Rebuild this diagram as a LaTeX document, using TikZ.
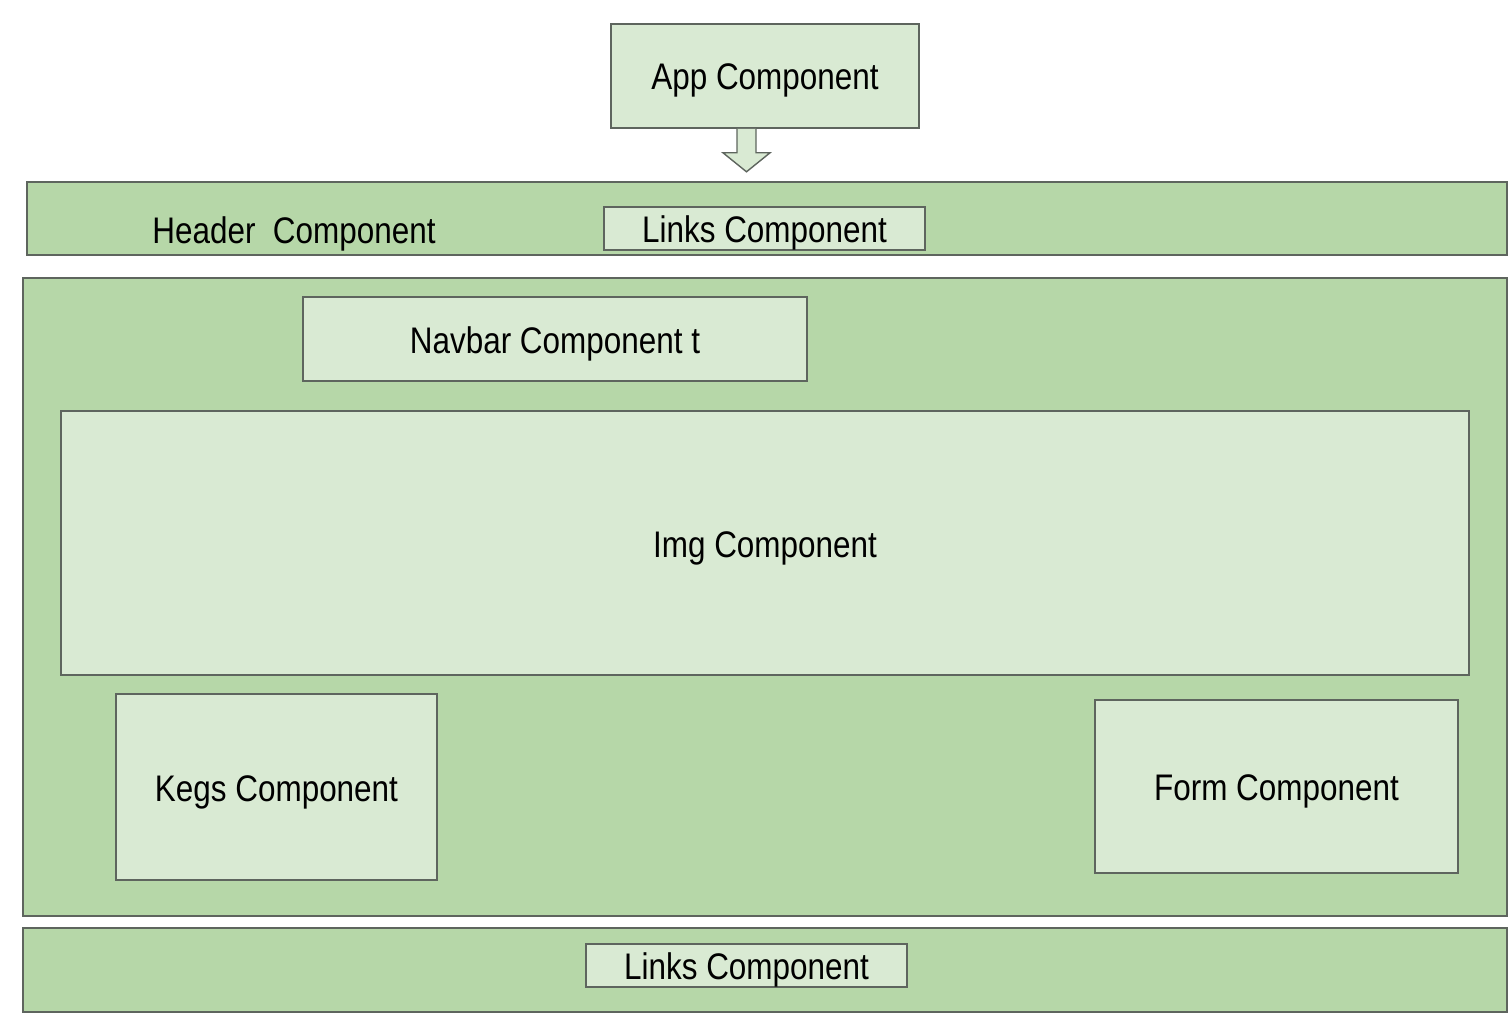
\documentclass[tikz,border=0pt]{standalone}
\usepackage{fontspec}
\setmainfont{Liberation Sans}[FakeStretch=0.85]
\usetikzlibrary{arrows}
\usetikzlibrary{shapes}
\definecolor{bandgreen}{HTML}{B6D7A8}
\definecolor{boxgreen}{HTML}{D9EAD3}
\definecolor{edgegray}{HTML}{5E655E}

\begin{document}
\begin{tikzpicture}[x = 1pt, y = -1pt, font=\fontsize{37}{44}\selectfont]
	\tikzstyle{bandStyle}=[shape = rectangle, draw = edgegray, line width = 2pt, fill = bandgreen, inner sep = 0pt]
	\tikzstyle{boxStyle}=[shape = rectangle, draw = edgegray, line width = 1.6pt, fill = boxgreen, inner sep = 0pt, text height = 28pt, text depth = 0pt]
	\tikzstyle{labelStyle}=[inner sep = 0pt, text height = 28pt, text depth = 0pt]
	\useasboundingbox (0,0) rectangle (1509,1035);
	% bands
	\node[style = bandStyle, minimum width = 1480pt, minimum height = 73pt] (header) at (767,218.5) {};
	\node[style = bandStyle, minimum width = 1484pt, minimum height = 638pt] (main) at (765,597) {};
	\node[style = bandStyle, minimum width = 1484pt, minimum height = 84pt] (footer) at (765,970) {};
	% boxes
	\node[style = boxStyle, minimum width = 308pt, minimum height = 104pt] (app) at (765,76) {App Component};
	\node[style = labelStyle] (headerText) at (294,229) {Header\ \ Component};
	\node[style = boxStyle, minimum width = 321pt, minimum height = 43pt] (linksTop) at (764.5,228.5) {Links Component};
	\node[style = boxStyle, minimum width = 504pt, minimum height = 84pt] (navbar) at (555,339) {Navbar Component t};
	\node[style = boxStyle, minimum width = 1408pt, minimum height = 264pt] (img) at (765,543) {Img Component};
	\node[style = boxStyle, minimum width = 321pt, minimum height = 186pt] (kegs) at (276.5,787) {Kegs Component};
	\node[style = boxStyle, minimum width = 363pt, minimum height = 173pt] (form) at (1276.5,786.5) {Form Component};
	\node[style = boxStyle, minimum width = 321pt, minimum height = 43pt] (linksBottom) at (746.5,965.5) {Links Component};
	% arrow
	\draw[draw = edgegray, line width = 1.4pt, fill = boxgreen]
		([xshift = -28pt]app.south) -- ++(0,24) -- ++(-14,0) -- ++(23.5,19) -- ++(23.5,-19) -- ++(-14,0) -- ++(0,-24);
\end{tikzpicture}
\end{document}
